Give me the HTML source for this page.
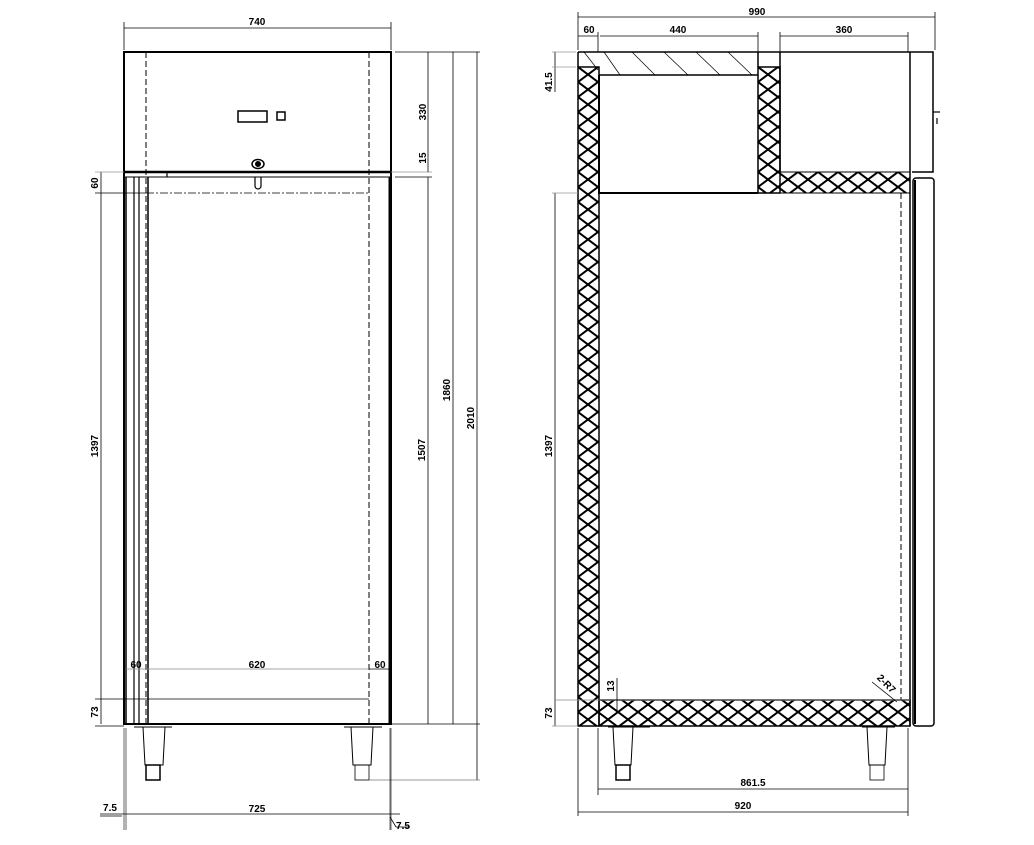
<!DOCTYPE html>
<html><head><meta charset="utf-8"><style>
html,body{margin:0;padding:0;background:#fff}
svg{display:block}
text{font-family:"Liberation Sans",Arial,sans-serif;font-size:10px;font-weight:bold;fill:#000}
</style></head><body>
<svg width="1034" height="845" viewBox="0 0 1034 845" xmlns="http://www.w3.org/2000/svg">
<defs>
<pattern id="x" width="20" height="15" patternUnits="userSpaceOnUse" x="578" y="67">
<path d="M0 0L20 15M20 0L0 15" stroke="#000" stroke-width="2" fill="none"/>
</pattern>
</defs>
<g fill="none" stroke="#000">
<!-- LEFT VIEW -->
<rect x="124" y="52" width="267" height="672" stroke-width="2"/>
<line x1="124" y1="172" x2="391" y2="172" stroke-width="2.5"/>
<line x1="124" y1="177" x2="391" y2="177" stroke-width="1"/>
<line x1="146" y1="52" x2="146" y2="724" stroke-dasharray="6,3" stroke-width="1"/>
<line x1="369" y1="52" x2="369" y2="724" stroke-dasharray="6,3" stroke-width="1"/>
<line x1="126" y1="177" x2="126" y2="724" stroke-width="1.5"/>
<line x1="134" y1="177" x2="134" y2="724" stroke-width="1.2"/>
<line x1="139" y1="177" x2="139" y2="724" stroke-width="1.2"/>
<line x1="148" y1="177" x2="148" y2="724" stroke-width="1.5"/>
<line x1="390" y1="177" x2="390" y2="724" stroke-width="3"/>
<line x1="167" y1="172" x2="167" y2="177" stroke-width="1.2"/>
<rect x="238" y="111" width="29" height="11" stroke-width="1.5"/>
<rect x="277" y="112" width="8" height="8" stroke-width="1.5"/>
<ellipse cx="258" cy="164" rx="6" ry="4.5" stroke-width="1.5"/>
<circle cx="258" cy="164" r="2.5" fill="#000"/>
<path d="M255 177V186A3 3 0 0 0 261 186V177" stroke-width="1.2"/>
<path d="M134 727H172M143 727L145 765H163L165 727" stroke-width="1"/>
<rect x="146" y="765" width="14" height="15" stroke-width="1.5"/>
<path d="M344 727H382M351 727L353 765H371L373 727" stroke-width="1"/>
<rect x="355" y="765" width="14" height="15" stroke-width="0.8"/>
<g stroke-width="0.8">
<line x1="124" y1="28" x2="391" y2="28"/>
<line x1="124" y1="22" x2="124" y2="50"/><line x1="391" y1="22" x2="391" y2="50"/>
<line x1="395" y1="52" x2="480" y2="52"/>
<line x1="395" y1="177" x2="432" y2="177"/>
<line x1="391" y1="172" x2="432" y2="172" stroke="#999"/>
<line x1="428" y1="52" x2="428" y2="172"/>
<line x1="428" y1="177" x2="428" y2="724"/>
<line x1="453" y1="52" x2="453" y2="724"/>
<line x1="477" y1="52" x2="477" y2="780"/>
<line x1="391" y1="724" x2="480" y2="724"/>
<line x1="369" y1="780" x2="480" y2="780" stroke="#777"/>
<line x1="101" y1="172" x2="101" y2="724"/>
<line x1="95" y1="172" x2="124" y2="172" stroke="#999"/>
<line x1="95" y1="193" x2="146" y2="193"/>
<line x1="146" y1="193" x2="369" y2="193" stroke-dasharray="8,2,2,2"/>
<line x1="95" y1="699" x2="369" y2="699"/>
<line x1="95" y1="726" x2="124" y2="726"/>
<line x1="126" y1="669" x2="369" y2="669" stroke="#888"/>
<line x1="369" y1="669" x2="391" y2="669"/>
<line x1="124" y1="728" x2="124" y2="830" stroke-width="0.6"/><line x1="126" y1="728" x2="126" y2="830" stroke-width="0.6"/>
<line x1="390" y1="728" x2="390" y2="830" stroke-width="0.6"/><line x1="391" y1="728" x2="391" y2="830" stroke-width="0.6"/>
<line x1="100" y1="814" x2="400" y2="814"/>
<path d="M390 817L396 827H410"/>
<line x1="100" y1="816" x2="122" y2="816"/>
</g>
<!-- RIGHT VIEW -->
<rect x="578" y="67" width="21" height="659" fill="url(#x)" stroke-width="1.5"/>
<rect x="758" y="67" width="22" height="126" fill="url(#x)" stroke-width="1.5"/>
<rect x="780" y="172" width="130" height="21" fill="url(#x)" stroke-width="1"/>
<rect x="599" y="700" width="311" height="26" fill="url(#x)" stroke-width="1.5"/>
<path d="M578 52H780M599 75H758M578 52V67M758 52V67M780 52V172" stroke-width="1.5"/>
<path d="M604 52L620 75M632 52L655 75M664 52L688 75M696 52L720 75M728 52L752 75M584 52L598 70" stroke-width="0.7"/>
<path d="M599 75V193H758" stroke-width="2"/>
<path d="M780 52H933V172H912" stroke-width="1.5"/>
<line x1="910" y1="52" x2="910" y2="726" stroke-width="1.5"/>
<line x1="933" y1="112" x2="940" y2="112" stroke-width="1.2"/>
<line x1="937" y1="118" x2="937" y2="124" stroke-width="1.2"/>
<rect x="913" y="178" width="21" height="548" rx="3" stroke-width="1.5"/>
<line x1="915" y1="180" x2="915" y2="724" stroke-width="2"/>
<line x1="901" y1="193" x2="901" y2="700" stroke-dasharray="6,3" stroke-width="1"/>
<path d="M608 727H650M613 727L615 765H631L633 727" stroke-width="1"/>
<rect x="616" y="765" width="14" height="15" stroke-width="1.5"/>
<path d="M862 727H895M867 727L869 765H885L887 727" stroke-width="1"/>
<rect x="870" y="765" width="14" height="15" stroke-width="0.8"/>
<g stroke-width="0.8">
<line x1="578" y1="17" x2="935" y2="17"/>
<line x1="578" y1="12" x2="578" y2="50"/><line x1="935" y1="12" x2="935" y2="50"/>
<line x1="578" y1="36" x2="598" y2="36"/>
<line x1="598" y1="32" x2="598" y2="52"/>
<line x1="600" y1="36" x2="758" y2="36"/>
<line x1="758" y1="32" x2="758" y2="52"/>
<line x1="780" y1="36" x2="908" y2="36"/>
<line x1="780" y1="32" x2="780" y2="52"/><line x1="908" y1="32" x2="908" y2="52"/>
<line x1="555" y1="52" x2="555" y2="92"/>
<line x1="552" y1="52" x2="576" y2="52" stroke="#999"/>
<line x1="552" y1="67" x2="576" y2="67" stroke="#999"/>
<line x1="555" y1="193" x2="555" y2="726"/>
<line x1="552" y1="193" x2="578" y2="193" stroke="#999"/>
<line x1="555" y1="700" x2="910" y2="700" stroke="#888"/>
<line x1="552" y1="726" x2="578" y2="726" stroke="#999"/>
<line x1="617" y1="678" x2="617" y2="712"/>
<path d="M872 682L897 702" />
<line x1="598" y1="728" x2="598" y2="795"/>
<line x1="578" y1="728" x2="578" y2="816"/>
<line x1="908" y1="728" x2="908" y2="816"/>
<line x1="598" y1="789" x2="908" y2="789"/>
<line x1="578" y1="812" x2="908" y2="812"/>
</g>
</g>
<text x="257" y="25" text-anchor="middle">740</text>
<text x="429" y="112" transform="rotate(-90 429 112)" text-anchor="middle" dy="-3">330</text>
<text x="429" y="158" transform="rotate(-90 429 158)" text-anchor="middle" dy="-3">15</text>
<text x="428" y="450" transform="rotate(-90 428 450)" text-anchor="middle" dy="-3">1507</text>
<text x="453" y="390" transform="rotate(-90 453 390)" text-anchor="middle" dy="-3">1860</text>
<text x="477" y="418" transform="rotate(-90 477 418)" text-anchor="middle" dy="-3">2010</text>
<text x="101" y="183" transform="rotate(-90 101 183)" text-anchor="middle" dy="-3">60</text>
<text x="101" y="446" transform="rotate(-90 101 446)" text-anchor="middle" dy="-3">1397</text>
<text x="101" y="712" transform="rotate(-90 101 712)" text-anchor="middle" dy="-3">73</text>
<text x="136" y="668" text-anchor="middle">60</text>
<text x="257" y="668" text-anchor="middle">620</text>
<text x="380" y="668" text-anchor="middle">60</text>
<text x="110" y="811" text-anchor="middle">7.5</text>
<text x="257" y="812" text-anchor="middle">725</text>
<text x="403" y="829" text-anchor="middle">7.5</text>
<text x="757" y="15" text-anchor="middle">990</text>
<text x="589" y="33" text-anchor="middle">60</text>
<text x="678" y="33" text-anchor="middle">440</text>
<text x="844" y="33" text-anchor="middle">360</text>
<text x="555" y="82" transform="rotate(-90 555 82)" text-anchor="middle" dy="-3">41.5</text>
<text x="555" y="446" transform="rotate(-90 555 446)" text-anchor="middle" dy="-3">1397</text>
<text x="555" y="713" transform="rotate(-90 555 713)" text-anchor="middle" dy="-3">73</text>
<text x="617" y="686" transform="rotate(-90 617 686)" text-anchor="middle" dy="-3">13</text>
<text x="884" y="686" transform="rotate(45 884 686)" text-anchor="middle">2-R7</text>
<text x="753" y="786" text-anchor="middle">861.5</text>
<text x="743" y="809" text-anchor="middle">920</text>
</svg>
</body></html>
